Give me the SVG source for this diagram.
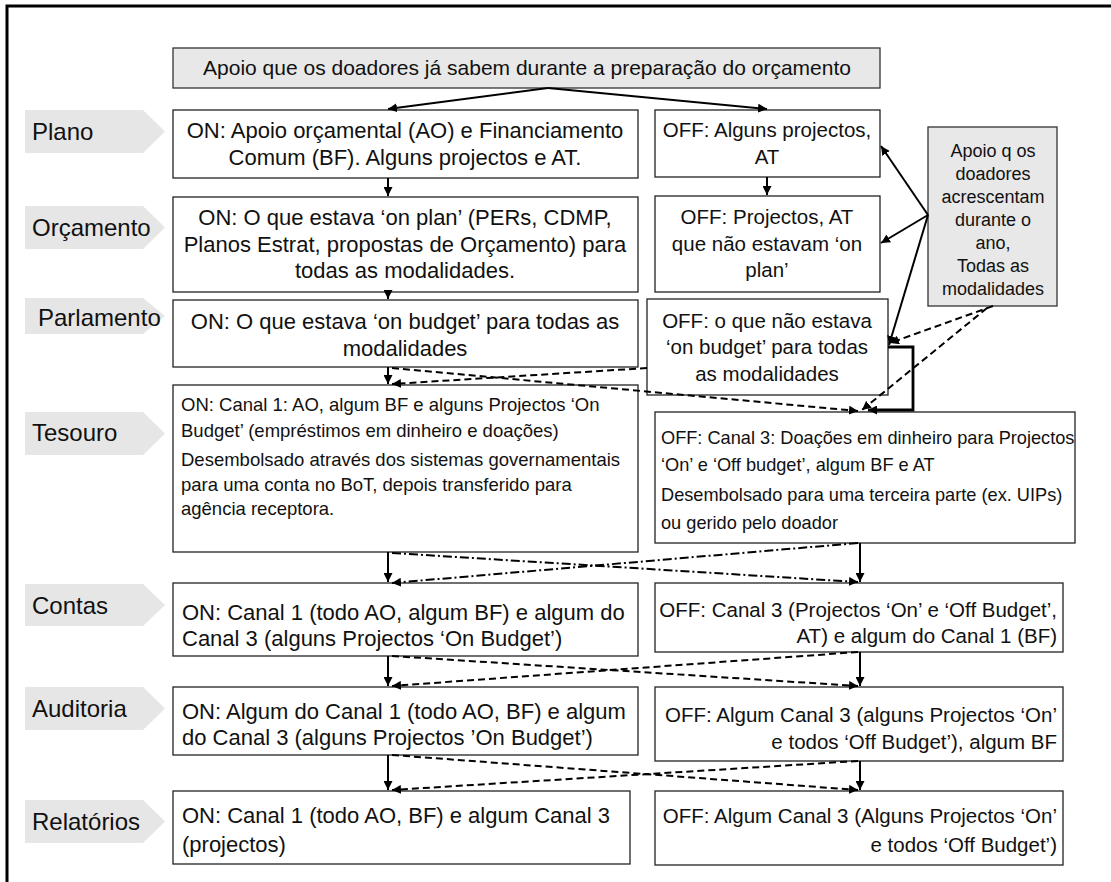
<svg xmlns="http://www.w3.org/2000/svg" width="1111" height="882" viewBox="0 0 1111 882">
<style>
.lab{fill:#e6e6e6;stroke:none}
.lt{font-family:"Liberation Sans",Arial,sans-serif;font-size:24px;fill:#111}
.box{fill:#fff;stroke:#222;stroke-width:1.3}
.gbox{fill:#e8e8e8;stroke:#333;stroke-width:1.3}
.t{font-family:"Liberation Sans",Arial,sans-serif;font-size:20.5px;fill:#111}
.tn{font-family:"Liberation Sans",Arial,sans-serif;font-size:22px;fill:#111}
.ts{font-family:"Liberation Sans",Arial,sans-serif;font-size:18.5px;fill:#111}
.ta{font-family:"Liberation Sans",Arial,sans-serif;font-size:18px;fill:#111}
.c{text-anchor:middle}
.e{text-anchor:end}
.sol{stroke:#000;stroke-width:2;fill:none}
.thick{stroke:#000;stroke-width:2.8;fill:none}
.dash{stroke:#000;stroke-width:2;fill:none;stroke-dasharray:7,4}
.dd{stroke:#000;stroke-width:2;fill:none;stroke-dasharray:9,3,2,3}
</style>
<defs>
<marker id="ah" viewBox="0 0 10 10" refX="10" refY="5" markerWidth="9" markerHeight="9" markerUnits="userSpaceOnUse" orient="auto"><path d="M0,0 L10,5 L0,10 z" fill="#000"/></marker>
</defs>
<path d="M7,882 V6 H1111" fill="none" stroke="#000" stroke-width="3"/>

<g id="label-plano"><path class="lab" d="M25,110 H143 L165,131.5 L143,153 H25 Z"/><text class="lt" x="32" y="140">Plano</text></g>
<g id="label-orcamento"><path class="lab" d="M25,206 H143 L165,227.5 L143,249 H25 Z"/><text class="lt" x="32" y="236">Orçamento</text></g>
<g id="label-parlamento"><path class="lab" d="M25,298 H143 L165,316 L143,334 H25 Z"/><text class="lt" x="38" y="326">Parlamento</text></g>
<g id="label-tesouro"><path class="lab" d="M25,412 H143 L165,433.5 L143,455 H25 Z"/><text class="lt" x="32" y="441">Tesouro</text></g>
<g id="label-contas"><path class="lab" d="M25,584 H143 L165,605 L143,626 H25 Z"/><text class="lt" x="32" y="614">Contas</text></g>
<g id="label-auditoria"><path class="lab" d="M25,687 H143 L165,708.5 L143,730 H25 Z"/><text class="lt" x="32" y="717">Auditoria</text></g>
<g id="label-relatorios"><path class="lab" d="M25,800 H143 L165,821.5 L143,843 H25 Z"/><text class="lt" x="32" y="830">Relatórios</text></g>

<g id="top"><rect class="gbox" x="173" y="48" width="707" height="40"/><text class="t c" x="527" y="75" style="font-size:21px">Apoio que os doadores já sabem durante a preparação do orçamento</text></g>

<g id="apoio-ano"><rect class="gbox" x="928" y="127" width="129" height="179"/>
<text class="ta c" x="993" y="157">Apoio q os</text>
<text class="ta c" x="993" y="180">doadores</text>
<text class="ta c" x="993" y="203">acrescentam</text>
<text class="ta c" x="993" y="226">durante o</text>
<text class="ta c" x="993" y="249">ano,</text>
<text class="ta c" x="993" y="272">Todas as</text>
<text class="ta c" x="993" y="295">modalidades</text></g>

<g id="plano-on"><rect class="box" x="173" y="110" width="465" height="68"/>
<text class="tn c" x="405" y="138">ON: Apoio orçamental (AO) e Financiamento</text>
<text class="tn c" x="405" y="165">Comum (BF). Alguns projectos e AT.</text></g>
<g id="plano-off"><rect class="box" x="655" y="110" width="225" height="67"/>
<text class="t c" x="767" y="137">OFF: Alguns projectos,</text>
<text class="t c" x="767" y="164">AT</text></g>

<g id="orc-on"><rect class="box" x="173" y="197" width="465" height="95"/>
<text class="tn c" x="405" y="225">ON: O que estava ‘on plan’ (PERs, CDMP,</text>
<text class="tn c" x="405" y="252">Planos Estrat, propostas de Orçamento) para</text>
<text class="tn c" x="405" y="278">todas as modalidades.</text></g>
<g id="orc-off"><rect class="box" x="655" y="196" width="225" height="96"/>
<text class="t c" x="767" y="224">OFF: Projectos, AT</text>
<text class="t c" x="767" y="251">que não estavam ‘on</text>
<text class="t c" x="767" y="277">plan’</text></g>

<g id="parl-on"><rect class="box" x="173" y="300" width="465" height="67"/>
<text class="tn c" x="405" y="329">ON: O que estava ‘on budget’ para todas as</text>
<text class="tn c" x="405" y="356">modalidades</text></g>
<g id="parl-off"><rect class="box" x="647" y="299" width="241" height="96"/>
<text class="t c" x="767" y="328">OFF: o que não estava</text>
<text class="t c" x="767" y="354">‘on budget’ para todas</text>
<text class="t c" x="767" y="381">as modalidades</text></g>

<g id="tes-on"><rect class="box" x="173" y="385" width="465" height="167"/>
<text class="ts" x="181" y="411">ON: Canal 1: AO, algum BF e alguns Projectos ‘On</text>
<text class="ts" x="181" y="437">Budget’  (empréstimos em dinheiro e doações)</text>
<text class="ts" x="181" y="466">Desembolsado através dos sistemas governamentais</text>
<text class="ts" x="181" y="491">para uma conta no BoT, depois transferido para</text>
<text class="ts" x="181" y="515">agência receptora.</text></g>
<g id="tes-off"><rect class="box" x="655" y="412" width="420" height="131"/>
<text class="ts" x="661" y="444" style="font-size:18.2px">OFF: Canal 3: Doações em dinheiro para Projectos</text>
<text class="ts" x="661" y="471" style="font-size:18.2px">‘On’ e ‘Off budget’, algum BF e AT</text>
<text class="ts" x="661" y="501" style="font-size:18.2px">Desembolsado para uma terceira parte (ex. UIPs)</text>
<text class="ts" x="661" y="529" style="font-size:18.2px">ou gerido pelo doador</text></g>

<g id="contas-on"><rect class="box" x="173" y="583" width="465" height="73"/>
<text class="tn" x="182" y="620">ON: Canal 1 (todo AO, algum BF) e algum do</text>
<text class="tn" x="182" y="646">Canal 3 (alguns Projectos ‘On Budget’)</text></g>
<g id="contas-off"><rect class="box" x="655" y="583" width="408" height="69"/>
<text class="t e" x="1057" y="617">OFF: Canal 3 (Projectos ‘On’ e ‘Off Budget’,</text>
<text class="t e" x="1057" y="643">AT) e algum do Canal 1 (BF)</text></g>

<g id="aud-on"><rect class="box" x="173" y="687" width="465" height="68"/>
<text class="tn" x="182" y="719">ON: Algum do Canal 1 (todo AO, BF) e algum</text>
<text class="tn" x="182" y="745">do Canal 3 (alguns Projectos ’On Budget’)</text></g>
<g id="aud-off"><rect class="box" x="655" y="687" width="408" height="74"/>
<text class="t e" x="1057" y="722">OFF: Algum Canal 3 (alguns Projectos ‘On’</text>
<text class="t e" x="1057" y="749">e todos ‘Off Budget’), algum BF</text></g>

<g id="rel-on"><rect class="box" x="173" y="791" width="457" height="73"/>
<text class="tn" x="182" y="823">ON: Canal 1 (todo AO, BF) e algum Canal 3</text>
<text class="tn" x="182" y="852">(projectos)</text></g>
<g id="rel-off"><rect class="box" x="655" y="791" width="408" height="74"/>
<text class="t e" x="1057" y="823">OFF: Algum Canal 3 (Alguns Projectos ‘On’</text>
<text class="t e" x="1057" y="852">e todos ‘Off Budget’)</text></g>

<g id="connectors">
<line class="sol" x1="548" y1="88" x2="388" y2="109" marker-end="url(#ah)"/>
<line class="sol" x1="548" y1="88" x2="767" y2="109" marker-end="url(#ah)"/>
<line class="sol" x1="388" y1="178" x2="388" y2="196" marker-end="url(#ah)"/>
<line class="sol" x1="767" y1="177" x2="767" y2="195" marker-end="url(#ah)"/>
<line class="sol" x1="388" y1="292" x2="388" y2="299" marker-end="url(#ah)"/>
<line class="sol" x1="388" y1="367" x2="388" y2="384" marker-end="url(#ah)"/>
<line class="sol" x1="928" y1="215" x2="881" y2="146" marker-end="url(#ah)"/>
<line class="sol" x1="928" y1="215" x2="881" y2="243" marker-end="url(#ah)"/>
<line class="sol" x1="928" y1="215" x2="889" y2="345" marker-end="url(#ah)"/>
<line class="dash" x1="993" y1="306" x2="890" y2="343" marker-end="url(#ah)"/>
<line class="dash" x1="987" y1="308" x2="862" y2="410" marker-end="url(#ah)"/>
<polyline class="thick" points="888,347 913,347 913,410 868,410" marker-end="url(#ah)"/>
<line class="dash" x1="647" y1="368" x2="392" y2="384" marker-end="url(#ah)"/>
<line class="dash" x1="392" y1="368" x2="858" y2="411" marker-end="url(#ah)"/>
<line class="sol" x1="388" y1="552" x2="388" y2="582" marker-end="url(#ah)"/>
<line class="sol" x1="860" y1="543" x2="860" y2="582" marker-end="url(#ah)"/>
<line class="dd" x1="392" y1="553" x2="858" y2="582" marker-end="url(#ah)"/>
<line class="dd" x1="858" y1="543" x2="392" y2="583" marker-end="url(#ah)"/>
<line class="sol" x1="388" y1="656" x2="388" y2="686" marker-end="url(#ah)"/>
<line class="sol" x1="860" y1="652" x2="860" y2="686" marker-end="url(#ah)"/>
<line class="dash" x1="392" y1="656" x2="858" y2="686" marker-end="url(#ah)"/>
<line class="dash" x1="858" y1="652" x2="392" y2="686" marker-end="url(#ah)"/>
<line class="sol" x1="388" y1="755" x2="388" y2="790" marker-end="url(#ah)"/>
<line class="sol" x1="860" y1="761" x2="860" y2="790" marker-end="url(#ah)"/>
<line class="dash" x1="392" y1="755" x2="858" y2="790" marker-end="url(#ah)"/>
<line class="dash" x1="858" y1="761" x2="392" y2="790" marker-end="url(#ah)"/>
</g>
</svg>
